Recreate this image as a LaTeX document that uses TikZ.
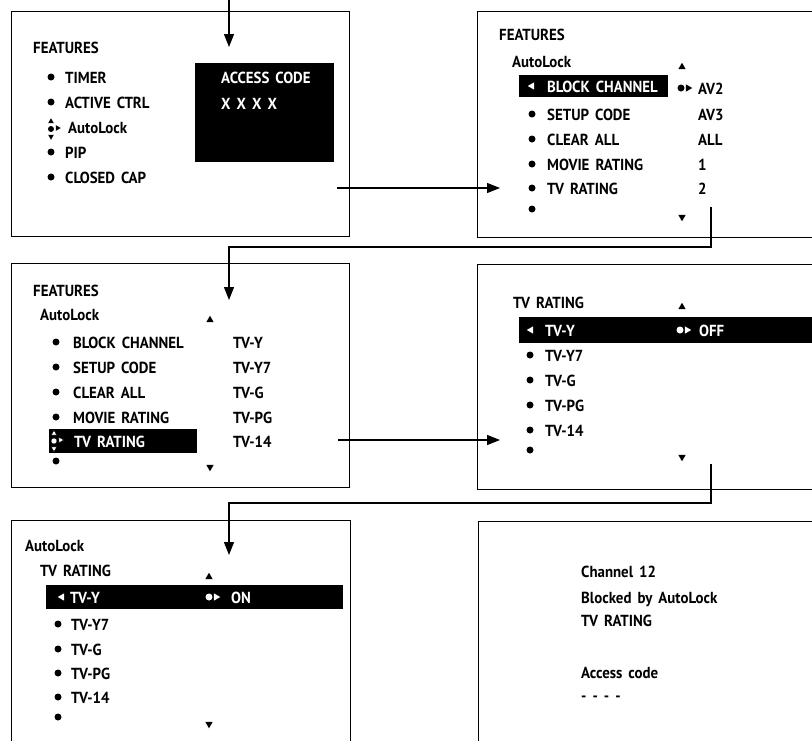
\documentclass[tikz,border=0pt]{standalone}
\usepackage{fontspec}
\setmainfont{PT Sans}[FakeStretch=0.93, WordSpace=1.6]
\usetikzlibrary{arrows.meta, shapes.geometric}
\newcommand{\menufont}{\fontsize{16}{19}\bfseries}
\tikzset{
  screen/.style={draw, line width=1.2pt, anchor=north west, inner sep=0pt},
  hbar/.style={fill=black, anchor=north west, inner sep=0pt},
  item/.style={anchor=base west, inner sep=0pt, font=\menufont},
  hitem/.style={item, text=white},
  dot/.style={circle, fill, inner sep=0pt, minimum size=7pt},
  tri/.style={regular polygon, regular polygon sides=3, fill, inner sep=0pt, minimum size=8.5pt},
  triup/.style={tri}, tridown/.style={tri, shape border rotate=180},
  trileft/.style={tri, shape border rotate=90}, triright/.style={tri, shape border rotate=-90},
  flow/.style={-{Triangle[length=13pt, width=10pt]}, line width=1.2pt},
}
% up/down/right cursor: #1 colour options, #2 name, #3 x, #4 y
\newcommand{\cursormark}[4]{%
  \node[dot, minimum size=6pt, #1] (#2) at (#3,#4) {};
  \node[triup, minimum size=6.5pt, #1] (#2u) at (#3,#4-7.5) {};
  \node[tridown, minimum size=6.5pt, #1] (#2d) at (#3,#4+7.5) {};
  \node[triright, minimum size=6.5pt, #1] (#2r) at (#3+6.5,#4-1) {};
}

\begin{document}
\begin{tikzpicture}[x=1pt, y=-1pt]
  \useasboundingbox (0,0) rectangle (812,740);
  \clip (0,0) rectangle (812,740);

  % screens
  \node[screen, minimum width=338pt, minimum height=225pt] (scr1) at (11,11) {};
  \node[screen, minimum width=360pt, minimum height=226pt] (scr2) at (477,11) {};
  \node[screen, minimum width=338pt, minimum height=224pt] (scr3) at (11,263) {};
  \node[screen, minimum width=360pt, minimum height=225pt] (scr4) at (477,264) {};
  \node[screen, minimum width=339pt, minimum height=240pt] (scr5) at (11,520) {};
  \node[screen, minimum width=360pt, minimum height=240pt] (scr6) at (478,521) {};

  % screen 1: features menu with access code
  \node[item] (s1title) at (33,53) {FEATURES};
  \node[dot] (s1d1) at (51,77) {};
  \node[item] (s1r1) at (65,83) {TIMER};
  \node[dot] (s1d2) at (51,102) {};
  \node[item] (s1r2) at (65,108) {ACTIVE CTRL};
  \cursormark{}{s1c}{51}{129}
  \node[item] (s1r3) at (68,133) {AutoLock};
  \node[dot] (s1d4) at (51,152) {};
  \node[item] (s1r4) at (65,158) {PIP};
  \node[dot] (s1d5) at (51,177) {};
  \node[item] (s1r5) at (65,183) {CLOSED CAP};
  \node[hbar, minimum width=139pt, minimum height=99pt] (codebox) at (195,63) {};
  \node[hitem] (code1) at (221,83) {ACCESS CODE};
  \node[hitem] (code2) at (221,109) {X X X X};

  % screen 2: autolock menu
  \node[item] (s2title) at (499,40) {FEATURES};
  \node[item] (s2sub) at (512,67) {AutoLock};
  \node[triup] (s2up) at (682,67) {};
  \node[hbar, minimum width=149pt, minimum height=22pt] (s2bar) at (519,75) {};
  \node[trileft, white] (s2l) at (532,86) {};
  \node[hitem] (s2r1) at (547,92) {BLOCK CHANNEL};
  \node[dot] (s2vd) at (681,88) {};
  \node[triright] (s2vr) at (688,88) {};
  \node[item] (s2v1) at (698,94) {AV2};
  \node[dot] (s2d2) at (532,114) {};
  \node[item] (s2r2) at (547,120) {SETUP CODE};
  \node[item] (s2v2) at (698,120) {AV3};
  \node[dot] (s2d3) at (532,139) {};
  \node[item] (s2r3) at (547,145) {CLEAR ALL};
  \node[item] (s2v3) at (698,145) {ALL};
  \node[dot] (s2d4) at (532,164) {};
  \node[item] (s2r4) at (547,170) {MOVIE RATING};
  \node[item] (s2v4) at (698,170) {1};
  \node[dot] (s2d5) at (532,188) {};
  \node[item] (s2r5) at (547,194) {TV RATING};
  \node[item] (s2v5) at (698,194) {2};
  \node[dot] (s2d6) at (532,209) {};
  \node[tridown] (s2down) at (682,217) {};

  % screen 3: tv rating selected
  \node[item] (s3title) at (33,296) {FEATURES};
  \node[item] (s3sub) at (40,320) {AutoLock};
  \node[triup] (s3up) at (210,320) {};
  \node[dot] (s3d1) at (56,342) {};
  \node[item] (s3r1) at (73,348) {BLOCK CHANNEL};
  \node[item] (s3v1) at (233,348) {TV-Y};
  \node[dot] (s3d2) at (56,367) {};
  \node[item] (s3r2) at (73,373) {SETUP CODE};
  \node[item] (s3v2) at (233,373) {TV-Y7};
  \node[dot] (s3d3) at (56,392) {};
  \node[item] (s3r3) at (73,398) {CLEAR ALL};
  \node[item] (s3v3) at (233,398) {TV-G};
  \node[dot] (s3d4) at (56,417) {};
  \node[item] (s3r4) at (73,423) {MOVIE RATING};
  \node[item] (s3v4) at (233,423) {TV-PG};
  \node[hbar, minimum width=148pt, minimum height=24pt] (s3bar) at (49,429) {};
  \cursormark{fill=white, draw=black, line width=0.4pt}{s3c}{54}{441}
  \node[hitem] (s3r5) at (74,447) {TV RATING};
  \node[item] (s3v5) at (233,447) {TV-14};
  \node[dot] (s3d6) at (56,461) {};
  \node[tridown] (s3down) at (210,467) {};

  % screen 4: tv rating off
  \node[item] (s4title) at (513,308) {TV RATING};
  \node[triup] (s4up) at (682,307) {};
  \node[hbar, minimum width=300pt, minimum height=26pt] (s4bar) at (519,317) {};
  \node[trileft, white] (s4l) at (531,330) {};
  \node[hitem] (s4r1) at (545,336) {TV-Y};
  \node[dot, white] (s4vd) at (680,330) {};
  \node[triright, white] (s4vr) at (687,330) {};
  \node[hitem] (s4v1) at (699,336) {OFF};
  \node[dot] (s4d2) at (530,355) {};
  \node[item] (s4r2) at (545,361) {TV-Y7};
  \node[dot] (s4d3) at (530,380) {};
  \node[item] (s4r3) at (545,386) {TV-G};
  \node[dot] (s4d4) at (530,405) {};
  \node[item] (s4r4) at (545,411) {TV-PG};
  \node[dot] (s4d5) at (530,430) {};
  \node[item] (s4r5) at (545,436) {TV-14};
  \node[dot] (s4d6) at (530,450) {};
  \node[tridown] (s4down) at (682,457) {};

  % screen 5: tv rating on
  \node[item] (s5title) at (25,551) {AutoLock};
  \node[item] (s5sub) at (40,576) {TV RATING};
  \node[triup] (s5up) at (209,577) {};
  \node[hbar, minimum width=297pt, minimum height=24pt] (s5bar) at (46,585) {};
  \node[trileft, white] (s5l) at (62,597) {};
  \node[hitem] (s5r1) at (70,603) {TV-Y};
  \node[dot, white] (s5vd) at (209,597) {};
  \node[triright, white] (s5vr) at (216,597) {};
  \node[hitem] (s5v1) at (231,603) {ON};
  \node[dot] (s5d2) at (58,624) {};
  \node[item] (s5r2) at (71,630) {TV-Y7};
  \node[dot] (s5d3) at (58,649) {};
  \node[item] (s5r3) at (71,655) {TV-G};
  \node[dot] (s5d4) at (58,673) {};
  \node[item] (s5r4) at (71,679) {TV-PG};
  \node[dot] (s5d5) at (58,697) {};
  \node[item] (s5r5) at (71,703) {TV-14};
  \node[dot] (s5d6) at (58,717) {};
  \node[tridown] (s5down) at (209,724) {};

  % screen 6: blocked message
  \node[item] (s6l1) at (581,577) {Channel 12};
  \node[item] (s6l2) at (581,603) {Blocked by AutoLock};
  \node[item] (s6l3) at (581,626) {TV RATING};
  \node[item] (s6l4) at (581,678) {Access code};
  \node[item] (s6l5) at (581,701) {- - - -};

  % connectors
  \coordinate (entry) at (229,0);
  \coordinate (in1) at (229,47);
  \coordinate (out1) at (337,188);
  \coordinate (in2) at (500,188);
  \coordinate (out2) at (711,207);
  \coordinate (turn3) at (229,247);
  \coordinate (in3) at (229,300);
  \coordinate (out3) at (338,440);
  \coordinate (in4) at (500,440);
  \coordinate (out4) at (711,464);
  \coordinate (turn5) at (229,503);
  \coordinate (in5) at (229,555);
  \draw[flow] (entry) -- (in1);
  \draw[flow] (out1) -- (in2);
  \draw[flow] (out2) |- (turn3) -- (in3);
  \draw[flow] (out3) -- (in4);
  \draw[flow] (out4) |- (turn5) -- (in5);
\end{tikzpicture}
\end{document}
